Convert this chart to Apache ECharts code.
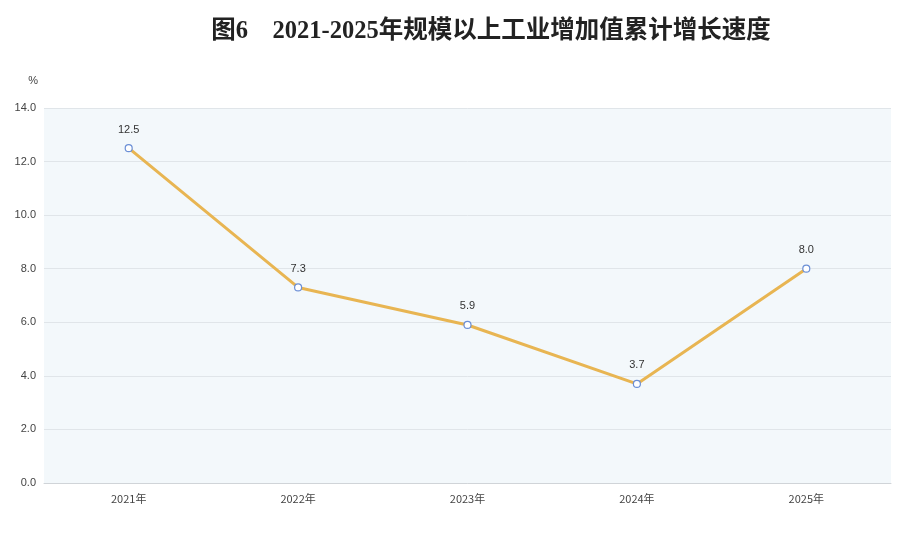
<!DOCTYPE html>
<html><head><meta charset="utf-8">
<script src="https://cdn.jsdelivr.net/npm/echarts@6/dist/echarts.min.js"></script>
<style>html,body{margin:0;padding:0;background:#fff}#c{width:910px;height:539px}</style>
</head><body><div id="c"></div>
<script>
var categories = ['2021年','2022年','2023年','2024年','2025年'];
var growth = [12.5, 7.3, 5.9, 3.7, 8.0];
var yTicks = [0, 2, 4, 6, 8, 10, 12, 14];

var chart = echarts.init(document.getElementById('c'));
chart.setOption({
  animation: false,
  backgroundColor: '#fff',
  title: {
    text: '图6    2021-2025年规模以上工业增加值累计增长速度',
    left: 486, top: 14, textAlign: 'center',
    textStyle: { fontFamily: '"Liberation Serif","Noto Sans CJK SC",serif', fontWeight: 'bold', fontSize: 24.5, color: '#222' }
  },
  grid: { left: 44, right: 19, top: 108, bottom: 56, show: true, backgroundColor: '#f3f8fb', borderWidth: 0 },
  xAxis: {
    type: 'category', data: categories, boundaryGap: true,
    axisLine: { lineStyle: { color: '#d0d4d8', width: 1 } },
    axisTick: { show: false },
    axisLabel: { color: '#444', fontSize: 11, margin: 10, fontFamily: '"Noto Sans CJK SC",sans-serif' }
  },
  yAxis: {
    type: 'value', min: yTicks[0], max: yTicks[yTicks.length-1], interval: 2,
    name: '%', nameLocation: 'end', nameGap: 22,
    nameTextStyle: { color: '#444', fontSize: 11, align: 'right', padding: [0, 6, 0, 0] },
    axisLine: { show: false }, axisTick: { show: false },
    axisLabel: { color: '#444', fontSize: 11, margin: 8, formatter: function(v){ return v.toFixed(1); } },
    splitLine: { lineStyle: { color: '#e0e5e9', width: 1 } }
  },
  series: [{
    type: 'line', data: growth,
    lineStyle: { color: '#e8b552', width: 3 },
    symbol: 'circle', symbolSize: 7, showAllSymbol: true,
    itemStyle: { color: '#ffffff', borderColor: '#6b8fd6', borderWidth: 1.2 },
    label: { show: true, position: 'top', distance: 9, color: '#333', fontSize: 11, formatter: function(p){ return p.value.toFixed(1); } }
  }]
});
</script></body></html>
